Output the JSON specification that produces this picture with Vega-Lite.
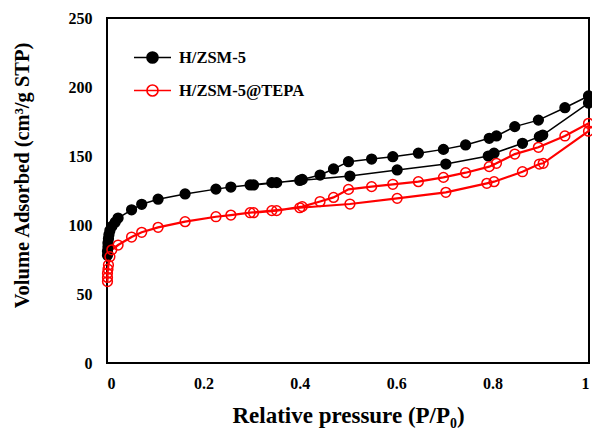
{
  "$schema": "https://vega.github.io/schema/vega-lite/v6.json",
  "width": 482,
  "height": 345,
  "autosize": {"type": "none"},
  "padding": {"left": 107, "top": 18, "right": 3, "bottom": 67},
  "background": "white",
  "config": {
    "font": "Liberation Serif",
    "view": {"stroke": "black", "strokeWidth": 2},
    "axis": {"grid": false, "ticks": false, "domain": false, "labelFont": "Liberation Serif", "labelFontWeight": "bold", "labelFontSize": 16, "labelColor": "black", "titleFont": "Liberation Serif", "titleFontWeight": "bold", "titleColor": "black"},
    "legend": {"orient": "none", "legendX": 26, "legendY": 20, "title": null, "symbolType": "M-1,0L1,0M0.3,0A0.3,0.3,0,1,1,-0.3,0A0.3,0.3,0,1,1,0.3,0Z", "symbolSize": 1369, "symbolStrokeWidth": 1.6, "labelFont": "Liberation Serif", "labelFontSize": 16.5, "labelFontWeight": "bold", "labelColor": "black", "labelOffset": 7, "rowPadding": 4, "padding": 0}
  },
  "data": {"values": [
    {"s": "H/ZSM-5", "i": 1, "p": 0.001, "v": 78},
    {"s": "H/ZSM-5", "i": 2, "p": 0.001, "v": 81},
    {"s": "H/ZSM-5", "i": 3, "p": 0.002, "v": 84},
    {"s": "H/ZSM-5", "i": 4, "p": 0.002, "v": 87},
    {"s": "H/ZSM-5", "i": 5, "p": 0.003, "v": 90},
    {"s": "H/ZSM-5", "i": 6, "p": 0.004, "v": 93},
    {"s": "H/ZSM-5", "i": 7, "p": 0.006, "v": 96},
    {"s": "H/ZSM-5", "i": 8, "p": 0.01, "v": 99},
    {"s": "H/ZSM-5", "i": 9, "p": 0.017, "v": 102},
    {"s": "H/ZSM-5", "i": 10, "p": 0.023, "v": 105},
    {"s": "H/ZSM-5", "i": 11, "p": 0.051, "v": 111},
    {"s": "H/ZSM-5", "i": 12, "p": 0.072, "v": 115},
    {"s": "H/ZSM-5", "i": 13, "p": 0.106, "v": 118.7},
    {"s": "H/ZSM-5", "i": 14, "p": 0.162, "v": 122.5},
    {"s": "H/ZSM-5", "i": 15, "p": 0.226, "v": 126},
    {"s": "H/ZSM-5", "i": 16, "p": 0.257, "v": 127.5},
    {"s": "H/ZSM-5", "i": 17, "p": 0.297, "v": 129},
    {"s": "H/ZSM-5", "i": 18, "p": 0.342, "v": 130.7},
    {"s": "H/ZSM-5", "i": 19, "p": 0.4, "v": 132.3},
    {"s": "H/ZSM-5", "i": 20, "p": 0.504, "v": 135.5},
    {"s": "H/ZSM-5", "i": 21, "p": 0.602, "v": 139.9},
    {"s": "H/ZSM-5", "i": 22, "p": 0.703, "v": 144.2},
    {"s": "H/ZSM-5", "i": 23, "p": 0.791, "v": 150},
    {"s": "H/ZSM-5", "i": 24, "p": 0.803, "v": 152},
    {"s": "H/ZSM-5", "i": 25, "p": 0.862, "v": 159.2},
    {"s": "H/ZSM-5", "i": 26, "p": 0.897, "v": 164},
    {"s": "H/ZSM-5", "i": 27, "p": 0.904, "v": 165.2},
    {"s": "H/ZSM-5", "i": 28, "p": 0.999, "v": 188.4},
    {"s": "H/ZSM-5", "i": 29, "p": 0.999, "v": 193.5},
    {"s": "H/ZSM-5", "i": 30, "p": 0.95, "v": 185},
    {"s": "H/ZSM-5", "i": 31, "p": 0.895, "v": 176},
    {"s": "H/ZSM-5", "i": 32, "p": 0.846, "v": 171.3},
    {"s": "H/ZSM-5", "i": 33, "p": 0.808, "v": 164.5},
    {"s": "H/ZSM-5", "i": 34, "p": 0.793, "v": 162.8},
    {"s": "H/ZSM-5", "i": 35, "p": 0.744, "v": 158},
    {"s": "H/ZSM-5", "i": 36, "p": 0.698, "v": 154.8},
    {"s": "H/ZSM-5", "i": 37, "p": 0.646, "v": 152},
    {"s": "H/ZSM-5", "i": 38, "p": 0.593, "v": 149.5},
    {"s": "H/ZSM-5", "i": 39, "p": 0.549, "v": 147.8},
    {"s": "H/ZSM-5", "i": 40, "p": 0.501, "v": 145.9},
    {"s": "H/ZSM-5", "i": 41, "p": 0.47, "v": 140.6},
    {"s": "H/ZSM-5", "i": 42, "p": 0.442, "v": 136.2},
    {"s": "H/ZSM-5", "i": 43, "p": 0.405, "v": 133},
    {"s": "H/ZSM-5", "i": 44, "p": 0.352, "v": 130.7},
    {"s": "H/ZSM-5", "i": 45, "p": 0.304, "v": 129},
    {"s": "H/ZSM-5@TEPA", "i": 1, "p": 0.001, "v": 59},
    {"s": "H/ZSM-5@TEPA", "i": 2, "p": 0.001, "v": 62},
    {"s": "H/ZSM-5@TEPA", "i": 3, "p": 0.001, "v": 65},
    {"s": "H/ZSM-5@TEPA", "i": 4, "p": 0.002, "v": 68},
    {"s": "H/ZSM-5@TEPA", "i": 5, "p": 0.003, "v": 71},
    {"s": "H/ZSM-5@TEPA", "i": 6, "p": 0.006, "v": 77},
    {"s": "H/ZSM-5@TEPA", "i": 7, "p": 0.01, "v": 82},
    {"s": "H/ZSM-5@TEPA", "i": 8, "p": 0.023, "v": 85.5},
    {"s": "H/ZSM-5@TEPA", "i": 9, "p": 0.051, "v": 91.3},
    {"s": "H/ZSM-5@TEPA", "i": 10, "p": 0.072, "v": 94.7},
    {"s": "H/ZSM-5@TEPA", "i": 11, "p": 0.106, "v": 98.3},
    {"s": "H/ZSM-5@TEPA", "i": 12, "p": 0.162, "v": 102.4},
    {"s": "H/ZSM-5@TEPA", "i": 13, "p": 0.226, "v": 106},
    {"s": "H/ZSM-5@TEPA", "i": 14, "p": 0.257, "v": 107.2},
    {"s": "H/ZSM-5@TEPA", "i": 15, "p": 0.297, "v": 108.9},
    {"s": "H/ZSM-5@TEPA", "i": 16, "p": 0.342, "v": 110.4},
    {"s": "H/ZSM-5@TEPA", "i": 17, "p": 0.4, "v": 112.5},
    {"s": "H/ZSM-5@TEPA", "i": 18, "p": 0.504, "v": 115.2},
    {"s": "H/ZSM-5@TEPA", "i": 19, "p": 0.602, "v": 119.3},
    {"s": "H/ZSM-5@TEPA", "i": 20, "p": 0.703, "v": 123.7},
    {"s": "H/ZSM-5@TEPA", "i": 21, "p": 0.788, "v": 130.2},
    {"s": "H/ZSM-5@TEPA", "i": 22, "p": 0.803, "v": 131.4},
    {"s": "H/ZSM-5@TEPA", "i": 23, "p": 0.862, "v": 138.6},
    {"s": "H/ZSM-5@TEPA", "i": 24, "p": 0.897, "v": 144.2},
    {"s": "H/ZSM-5@TEPA", "i": 25, "p": 0.905, "v": 144.7},
    {"s": "H/ZSM-5@TEPA", "i": 26, "p": 0.999, "v": 168},
    {"s": "H/ZSM-5@TEPA", "i": 27, "p": 0.999, "v": 173.7},
    {"s": "H/ZSM-5@TEPA", "i": 28, "p": 0.95, "v": 164.5},
    {"s": "H/ZSM-5@TEPA", "i": 29, "p": 0.895, "v": 156.3},
    {"s": "H/ZSM-5@TEPA", "i": 30, "p": 0.846, "v": 151.4},
    {"s": "H/ZSM-5@TEPA", "i": 31, "p": 0.808, "v": 144.7},
    {"s": "H/ZSM-5@TEPA", "i": 32, "p": 0.793, "v": 142.3},
    {"s": "H/ZSM-5@TEPA", "i": 33, "p": 0.744, "v": 137.9},
    {"s": "H/ZSM-5@TEPA", "i": 34, "p": 0.698, "v": 134.5},
    {"s": "H/ZSM-5@TEPA", "i": 35, "p": 0.646, "v": 131.4},
    {"s": "H/ZSM-5@TEPA", "i": 36, "p": 0.593, "v": 129.5},
    {"s": "H/ZSM-5@TEPA", "i": 37, "p": 0.549, "v": 127.8},
    {"s": "H/ZSM-5@TEPA", "i": 38, "p": 0.501, "v": 125.8},
    {"s": "H/ZSM-5@TEPA", "i": 39, "p": 0.47, "v": 120},
    {"s": "H/ZSM-5@TEPA", "i": 40, "p": 0.442, "v": 117},
    {"s": "H/ZSM-5@TEPA", "i": 41, "p": 0.405, "v": 113.3},
    {"s": "H/ZSM-5@TEPA", "i": 42, "p": 0.352, "v": 110.4},
    {"s": "H/ZSM-5@TEPA", "i": 43, "p": 0.304, "v": 108.9}
  ]},
  "encoding": {
    "x": {"field": "p", "type": "quantitative", "scale": {"domain": [0, 1], "nice": false},
      "axis": {"values": [0, 0.2, 0.4, 0.6, 0.8, 1], "format": "~g", "labelPadding": 12, "title": "Relative pressure (P/P₀)", "titleFontSize": 23, "titleBaseline": "top", "titleY": 41}},
    "y": {"field": "v", "type": "quantitative", "scale": {"domain": [0, 250], "nice": false},
      "axis": {"values": [0, 50, 100, 150, 200, 250], "labelPadding": 15, "title": "Volume Adsorbed (cm³/g STP)", "titleFontSize": 20.5, "titleX": -85, "titleY": 157, "titleBaseline": "middle", "titleAlign": "center"}}
  },
  "layer": [
    {
      "transform": [{"filter": "datum.s === 'H/ZSM-5'"}],
      "mark": {"type": "line", "strokeWidth": 1.5},
      "encoding": {
        "stroke": {"field": "s", "type": "nominal", "scale": {"domain": ["H/ZSM-5", "H/ZSM-5@TEPA"], "range": ["black", "#ff0000"]}},
        "order": {"field": "i", "type": "quantitative"}
      }
    },
    {
      "transform": [{"filter": "datum.s === 'H/ZSM-5@TEPA'"}],
      "mark": {"type": "line", "strokeWidth": 2.2},
      "encoding": {
        "stroke": {"field": "s", "type": "nominal", "scale": {"domain": ["H/ZSM-5", "H/ZSM-5@TEPA"], "range": ["black", "#ff0000"]}},
        "order": {"field": "i", "type": "quantitative"}
      }
    },
    {
      "mark": {"type": "point", "shape": "circle", "size": 95, "strokeWidth": 1.5, "opacity": 1},
      "encoding": {
        "stroke": {"field": "s", "type": "nominal", "scale": {"domain": ["H/ZSM-5", "H/ZSM-5@TEPA"], "range": ["black", "#ff0000"]}},
        "fill": {"field": "s", "type": "nominal", "scale": {"domain": ["H/ZSM-5", "H/ZSM-5@TEPA"], "range": ["black", "transparent"]}}
      }
    }
  ]
}
